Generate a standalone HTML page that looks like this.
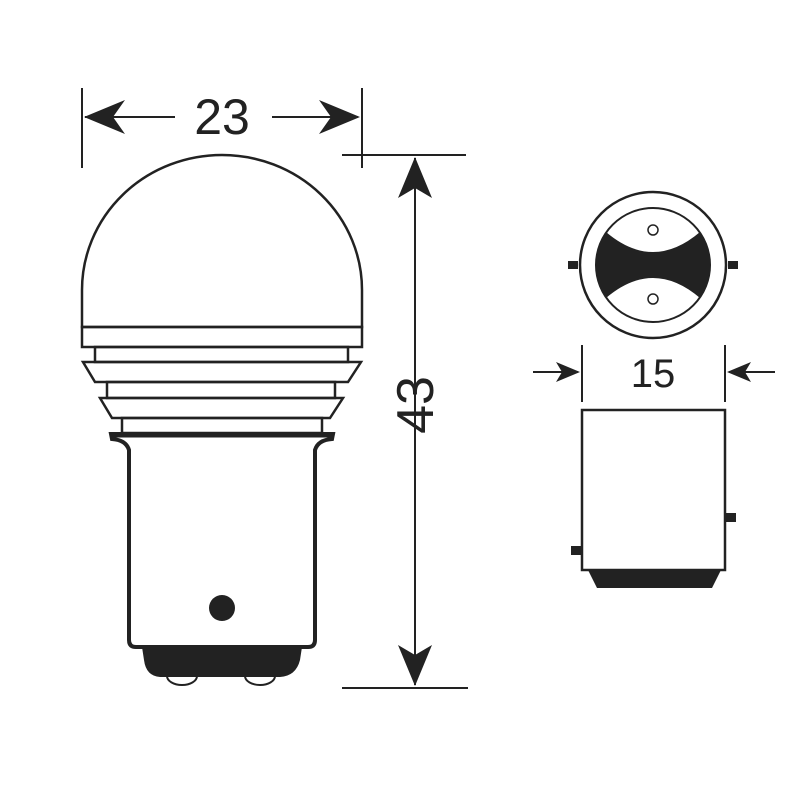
<!DOCTYPE html>
<html><head><meta charset="utf-8"><style>html,body{margin:0;padding:0;background:#fff}svg{display:block}</style></head>
<body>
<svg width="800" height="800" viewBox="0 0 800 800" xmlns="http://www.w3.org/2000/svg" font-family="Liberation Sans, sans-serif">
<rect width="800" height="800" fill="#fff"/>
<g stroke="#222" stroke-width="2" fill="none">
<line x1="82" y1="88" x2="82" y2="168"/>
<line x1="362" y1="88" x2="362" y2="168"/>
<line x1="85" y1="117" x2="175" y2="117"/>
<line x1="272" y1="117" x2="358" y2="117"/>
<line x1="342" y1="155" x2="466" y2="155"/>
<line x1="342" y1="688" x2="468" y2="688"/>
<line x1="415" y1="158" x2="415" y2="685"/>
<path d="M82 327 L82 290 A140 135 0 0 1 362 290 L362 327 Z" stroke-width="2.5" fill="#fff"/>
<rect x="82" y="327" width="280" height="20" stroke-width="2.5"/>
<rect x="95" y="347" width="253" height="15" stroke-width="2.5"/>
<path d="M83 362 L361 362 L348 382 L95 382 Z" stroke-width="2.5"/>
<rect x="107" y="382" width="228" height="16" stroke-width="2.5"/>
<path d="M100 398 L343 398 L330 418 L112 418 Z" stroke-width="2.5"/>
<rect x="122" y="418" width="200" height="15" stroke-width="2.5"/>
<path d="M111 434 L333 434 L332 439 Q318 440 315 450 L315 640 Q315 647 308 647 L136 647 Q129 647 129 640 L129 450 Q126 440 112 439 Z" stroke-width="4" fill="#fff"/>
<line x1="112" y1="435" x2="332" y2="435" stroke-width="5"/>
<line x1="582" y1="345" x2="582" y2="402"/>
<line x1="725" y1="345" x2="725" y2="402"/>
<line x1="533" y1="372" x2="578" y2="372"/>
<line x1="729" y1="372" x2="775" y2="372"/>
<circle cx="653" cy="265" r="73" stroke-width="2.5"/>
<circle cx="653" cy="265" r="57" stroke-width="2"/>
<rect x="582" y="410" width="143" height="160" stroke-width="2.5" fill="#fff"/>
</g>
<g stroke="#222" stroke-width="2" fill="#fff">
<ellipse cx="182" cy="676" rx="15" ry="9"/>
<ellipse cx="260" cy="676" rx="15" ry="9"/>
</g>
<path d="M142 647 L302 647 L300 660 Q296 676 280 677 L160 677 Q146 676 144 660 Z" fill="#222"/>
<circle cx="222" cy="608" r="13" fill="#222"/>
<g fill="#222">
<path d="M84 117 L125 100 L113 117 L125 134 Z"/>
<path d="M360 117 L319 100 L331 117 L319 134 Z"/>
<path d="M415 157 L398 198 L415 188 L432 198 Z"/>
<path d="M415 686 L398 645 L415 655 L432 645 Z"/>
<path d="M580 372 L556 362 L562 372 L556 382 Z"/>
<path d="M727 372 L751 362 L745 372 L751 382 Z"/>
<rect x="568" y="261" width="10" height="8"/>
<rect x="728" y="261" width="10" height="8"/>
<rect x="725" y="513" width="11" height="9"/>
<rect x="571" y="546" width="11" height="9"/>
<path d="M588 570 L721 570 L712 588 L597 588 Z"/>
<path d="M606 232 Q653 272 700 232 A57 57 0 0 1 700 298 Q653 258 606 298 A57 57 0 0 1 606 232 Z"/>
</g>
<g stroke="#222" stroke-width="1.5" fill="#fff">
<circle cx="653" cy="230" r="5"/>
<circle cx="653" cy="299" r="5"/>
</g>
<g fill="#222" text-anchor="middle">
<text x="222" y="134" font-size="50">23</text>
<text x="653" y="387" font-size="40">15</text>
<text transform="translate(433,405) rotate(-90)" font-size="52">43</text>
</g>
</svg>
</body></html>
